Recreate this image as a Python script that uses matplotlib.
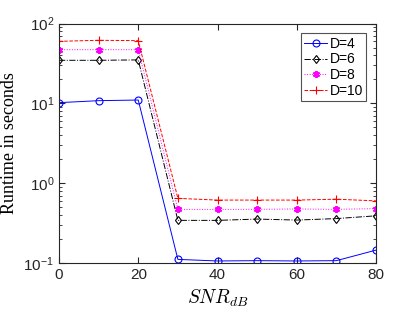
import numpy as np
import matplotlib.pyplot as plt
from matplotlib.ticker import LogLocator, FixedLocator

plt.rcParams['font.family'] = ['Liberation Sans', 'DejaVu Sans']
plt.rcParams['mathtext.fontset'] = 'custom'
plt.rcParams['mathtext.rm'] = 'Liberation Sans'
plt.rcParams['mathtext.it'] = 'Liberation Sans:italic'

# SNR points (dB)
snr = [0, 10, 20, 30, 40, 50, 60, 70, 80]

# runtimes in seconds
d4 = [10.2, 10.8, 11.0, 0.111, 0.106, 0.107, 0.106, 0.107, 0.145]
d6 = [34.6, 34.6, 35.0, 0.342, 0.342, 0.355, 0.345, 0.360, 0.390]
d8 = [47.0, 47.0, 47.0, 0.469, 0.469, 0.470, 0.475, 0.470, 0.480]
d10 = [59.8, 61.6, 61.0, 0.645, 0.614, 0.614, 0.614, 0.630, 0.600]

fig = plt.figure(figsize=(4.15, 3.12), dpi=100)
ax = fig.add_axes([59/415, 1 - 263/312, (376-59)/415, (263-23.5)/312])

ax.plot(snr, d4, 'o-', color='blue', lw=0.7, ms=5, mew=0.8, mfc='none', label='D=4')
ax.plot(snr, d6, 'd-.', color='black', lw=0.7, ms=4.5, mew=0.8, mfc='none', label='D=6')
ax.plot(snr, d8, ':', marker=(6, 2, 0), color='magenta', lw=0.7, ms=5, mew=1.4, label='D=8')
ax.plot(snr, d10, '+--', color='red', lw=0.7, ms=6, mew=0.8, label='D=10')

ax.set_yscale('log')
ax.set_xlim(0, 80)
ax.set_ylim(0.1, 100)
ax.xaxis.set_major_locator(FixedLocator([0, 20, 40, 60, 80]))
ax.yaxis.set_minor_locator(LogLocator(base=10, subs=np.arange(2, 10)))
ax.tick_params(which='both', direction='in', top=True, right=True, labelsize=11, colors='#262626')
ax.tick_params(which='major', length=4)
ax.tick_params(which='minor', length=2)
for s in ax.spines.values():
    s.set_color('#262626')
    s.set_linewidth(0.8)

ax.set_ylabel('Runtime in seconds', family='Liberation Serif', fontsize=13)
ax.set_xlabel(r'$SNR_{dB}$', fontsize=14, math_fontfamily='cm')

leg = ax.legend(loc='upper right', fontsize=10, fancybox=False, edgecolor='#262626',
                handlelength=1.6, handletextpad=0.2, borderpad=0.25, labelspacing=0.12,
                borderaxespad=0.7)
leg.get_frame().set_linewidth(0.8)

fig.savefig('out.png', dpi=100)
